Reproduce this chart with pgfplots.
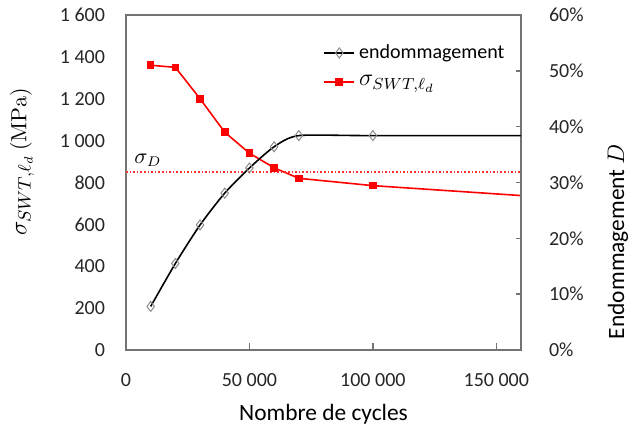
\documentclass[border=0pt]{standalone}
\usepackage{pgfplots}
\pgfplotsset{compat=1.18}
\usepackage[no-math]{fontspec}
\setmainfont{Carlito}
\begin{document}
\begin{tikzpicture}
\pgfplotsset{
  every axis/.append style={
    scale only axis, width=197.5pt, height=167.5pt,
    xmin=0, xmax=160000,
    /pgf/number format/fixed,
    /pgf/number format/assume math mode=true,
    /pgf/number format/1000 sep={\hspace{0.226em}},
    scaled ticks=false,
    tick label style={font=\fontsize{10}{12}\selectfont, color=black!85},
    axis line style={black!55, line width=0.7pt},
    tick style={black!55, line width=0.7pt},
    tick align=inside,
  }
}
\begin{axis}[
  ymin=0, ymax=1600, ytick={0,200,...,1600},
  xtick={0,50000,100000,150000},
  xtick pos=bottom, ytick pos=left,
  ytick style={draw=none},
  major tick length=3.5pt,
  yticklabel style={xshift=-7pt},
  xticklabel style={yshift=-8pt},
  xlabel={Nombre de cycles},
  xlabel style={font=\fontsize{11.7}{14}\selectfont, at={(axis description cs:0.5,0)},
    anchor=base, yshift=-35.5pt},
  ylabel={{\fontsize{13}{15}\selectfont$\sigma_{SWT,\ell_d}$} {\fontsize{11}{13}\selectfont$\mathrm{(MPa)}$}},
  ylabel style={at={(axis description cs:0,0.561)}, anchor=center, yshift=52pt},
]
\addplot[red, line width=0.8pt, mark=square*, mark size=1.5pt, mark options={solid, fill=red}]
  coordinates {(10000,1360) (20000,1350) (30000,1200) (40000,1040) (50000,940)
               (60000,870) (70000,820) (100000,785) (200000,706)};
\addplot[red!80, densely dotted, line width=0.8pt] coordinates {(0,850) (160000,850)};
\node[font=\fontsize{10.5}{12}\selectfont] at (axis cs:8900,907) {$\sigma_D$};
\end{axis}
\begin{axis}[
  axis y line*=right, axis x line=none,
  ymin=0, ymax=60, ytick={0,10,...,60},
  yticklabel={\pgfmathprintnumber{\tick}\%},
  major tick length=2.5pt,
  yticklabel style={xshift=10.5pt},
  ylabel={Endommagement $D$},
  ylabel style={font=\fontsize{11.7}{14}\selectfont, at={(axis description cs:1,0.324)},
    anchor=center, yshift=-48.5pt},
  legend style={draw=none, fill=none, inner sep=0pt, at={(axis description cs:0.499,0.925)},
    anchor=north west, font=\fontsize{10}{12}\selectfont, row sep=3pt},
  legend cell align=left,
  legend image code/.code={\draw[mark repeat=2, mark phase=2, #1]
    plot coordinates {(0pt,0pt) (7.5pt,0pt) (15pt,0pt)};},
]
\addplot[black, line width=0.8pt, smooth, tension=0.4, mark=diamond, mark size=2.5pt,
  mark options={draw=black!45, fill=white, line width=0.5pt}]
  coordinates {(10000,7.8) (20000,15.5) (30000,22.4) (40000,28.1) (50000,32.6)
               (60000,36.4) (70000,38.4) (100000,38.4) (200000,38.4)};
\addlegendentry{endommagement}
\addlegendimage{red, line width=0.8pt, mark=square*, mark size=1.5pt, mark options={fill=red}}
\addlegendentry{\fontsize{12}{14}\selectfont$\sigma_{SWT,\ell_d}$}
\end{axis}
\pgfresetboundingbox
\useasboundingbox (-63pt,-39pt) rectangle (251.5pt,175pt);
\end{tikzpicture}
\end{document}
